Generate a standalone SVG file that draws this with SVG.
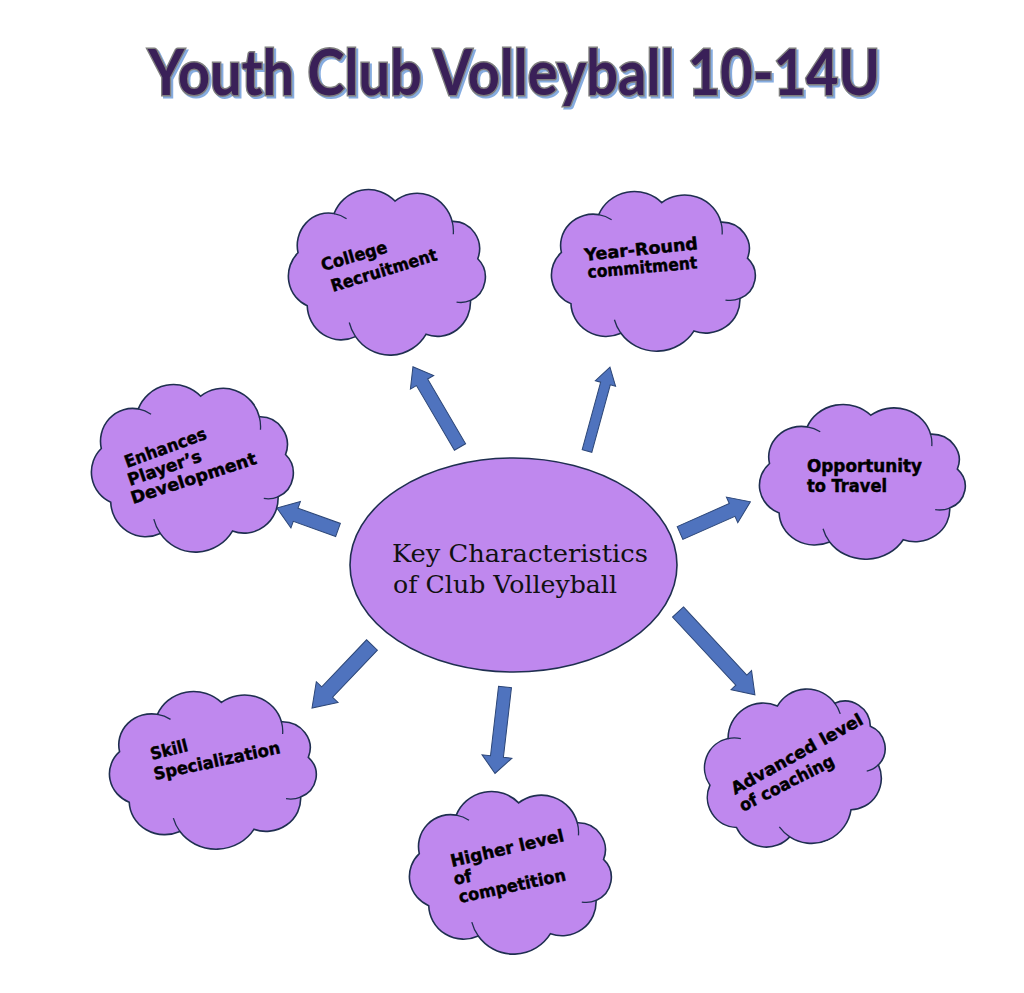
<svg xmlns="http://www.w3.org/2000/svg" xmlns:xlink="http://www.w3.org/1999/xlink" width="1024" height="993" viewBox="0 0 1024 993">
<style>
.cloud{fill:#bf88ee;stroke:#1f2f50;stroke-width:1.6;vector-effect:non-scaling-stroke}
.inner{fill:none;stroke:#1f2f50;stroke-width:1.3;vector-effect:non-scaling-stroke}
.lbl{font-family:"DejaVu Sans","Noto Sans",sans-serif;font-weight:bold;font-size:17px;fill:#000;stroke:#000;stroke-width:0.45}
.arrow{fill:#4f73be;stroke:#2c4677;stroke-width:1}
.title{font-family:Lato,"Noto Sans",sans-serif;font-weight:bold;font-size:63px}
.center{font-family:"DejaVu Serif","Liberation Serif",serif;font-size:24px;fill:#111}
</style>
<defs>
<symbol id="cloud" viewBox="11 9 178 144" preserveAspectRatio="none">
<path class="cloud" d="M20.8,64.5 A27.9,27.9 0 0 1 52.9,30.9 A33.1,33.1 0 0 1 107.1,20.2 A32.3,32.3 0 0 1 158,37.6 A23.6,23.6 0 0 1 180.8,69.6 A21.8,21.8 0 0 1 174.3,105.4 A29.5,29.5 0 0 1 134.7,134.4 A37.6,37.6 0 0 1 72,136.4 A30.3,30.3 0 0 1 29,110 A27.7,27.7 0 0 1 20.8,64.5 Z"/>
<path class="inner" d="M52.9,30.9 A27.9,27.9 0 0 1 64,35.4 M158,37.6 A32.3,32.3 0 0 1 159,48.6 M174.3,105.4 A21.8,21.8 0 0 1 161.9,106.8 M72,136.4 A37.6,37.6 0 0 1 66.4,124.3"/>
</symbol>
</defs>
<rect width="1024" height="993" fill="#fff"/>

<g id="title">
<text class="title" x="150" y="97" textLength="732" lengthAdjust="spacingAndGlyphs" fill="#86ace0" stroke="#86ace0" stroke-width="3">Youth Club Volleyball 10-14U</text>
<text class="title" x="148" y="95" textLength="732" lengthAdjust="spacingAndGlyphs" fill="#3a2058" stroke="#7f7f7f" stroke-width="3" paint-order="stroke">Youth Club Volleyball 10-14U</text>
</g>

<g id="connectors">
<polygon class="arrow" transform="translate(460,447) rotate(-120.4)" points="0,-6.5 75,-6.5 75,-13.5 93,0 75,13.5 75,6.5 0,6.5"/>
<polygon class="arrow" transform="translate(587,451) rotate(-74.7)" points="0,-5 70,-5 70,-10.5 87,0 70,10.5 70,5 0,5"/>
<polygon class="arrow" transform="translate(338,530) rotate(-160.2)" points="0,-7 45,-7 45,-14 65,0 45,14 45,7 0,7"/>
<polygon class="arrow" transform="translate(680,533) rotate(-23.9)" points="0,-7 57,-7 57,-14 77,0 57,14 57,7 0,7"/>
<polygon class="arrow" transform="translate(372,645) rotate(133.6)" points="0,-7.5 65,-7.5 65,-15 87,0 65,15 65,7.5 0,7.5"/>
<polygon class="arrow" transform="translate(505,687) rotate(96.6)" points="0,-6.5 70,-6.5 70,-15 87,0 70,15 70,6.5 0,6.5"/>
<polygon class="arrow" transform="translate(678,612) rotate(47.1)" points="0,-7.5 93,-7.5 93,-14 113,0 93,14 93,7.5 0,7.5"/>
</g>

<g id="center">
<ellipse cx="513.5" cy="565" rx="163.5" ry="107" fill="#bf88ee" stroke="#1f2f50" stroke-width="1.6"/>
<text class="center" x="392" y="562" textLength="256" lengthAdjust="spacingAndGlyphs">Key Characteristics</text>
<text class="center" x="393" y="593" textLength="224" lengthAdjust="spacingAndGlyphs">of Club Volleyball</text>
</g>

<g id="college">
<use href="#cloud" xlink:href="#cloud" x="287" y="188" width="200" height="168"/>
<text class="lbl" transform="translate(323,271) rotate(-16)" textLength="68" lengthAdjust="spacingAndGlyphs">College</text>
<text class="lbl" transform="translate(333,292) rotate(-17)" textLength="110" lengthAdjust="spacingAndGlyphs">Recruitment</text>
</g>

<g id="yearround">
<use href="#cloud" xlink:href="#cloud" x="550" y="190" width="207" height="162"/>
<text class="lbl" transform="translate(585,261) rotate(-6)" textLength="114" lengthAdjust="spacingAndGlyphs">Year-Round</text>
<text class="lbl" transform="translate(588,278) rotate(-5)" textLength="110" lengthAdjust="spacingAndGlyphs">commitment</text>
</g>

<g id="enhances">
<use href="#cloud" xlink:href="#cloud" x="90" y="383" width="205" height="170"/>
<text class="lbl" transform="translate(127,468) rotate(-20)" textLength="86" lengthAdjust="spacingAndGlyphs">Enhances</text>
<text class="lbl" transform="translate(130,486) rotate(-19)" textLength="77" lengthAdjust="spacingAndGlyphs">Player’s</text>
<text class="lbl" transform="translate(133,504) rotate(-18)" textLength="131" lengthAdjust="spacingAndGlyphs">Development</text>
</g>

<g id="travel">
<use href="#cloud" xlink:href="#cloud" x="758" y="403" width="209" height="157"/>
<text class="lbl" x="807" y="472" textLength="115" lengthAdjust="spacingAndGlyphs">Opportunity</text>
<text class="lbl" x="807" y="492" textLength="80" lengthAdjust="spacingAndGlyphs">to Travel</text>
</g>

<g id="skill">
<use href="#cloud" xlink:href="#cloud" x="108" y="690" width="210" height="160"/>
<text class="lbl" transform="translate(152,760) rotate(-14)" textLength="38" lengthAdjust="spacingAndGlyphs">Skill</text>
<text class="lbl" transform="translate(155,780) rotate(-12)" textLength="129" lengthAdjust="spacingAndGlyphs">Specialization</text>
</g>

<g id="competition">
<use href="#cloud" xlink:href="#cloud" x="408" y="790" width="205" height="165"/>
<text class="lbl" transform="translate(452,867) rotate(-13)" textLength="116" lengthAdjust="spacingAndGlyphs">Higher level</text>
<text class="lbl" transform="translate(455,885) rotate(-12)" textLength="18" lengthAdjust="spacingAndGlyphs">of</text>
<text class="lbl" transform="translate(460,903) rotate(-12)" textLength="109" lengthAdjust="spacingAndGlyphs">competition</text>
</g>

<g id="coaching">
<use href="#cloud" xlink:href="#cloud" x="700" y="692" width="190" height="156" transform="rotate(-22 795 770)"/>
<text class="lbl" transform="translate(735,795) rotate(-29)" textLength="148" lengthAdjust="spacingAndGlyphs">Advanced level</text>
<text class="lbl" transform="translate(743,812) rotate(-27)" textLength="104" lengthAdjust="spacingAndGlyphs">of coaching</text>
</g>
</svg>
